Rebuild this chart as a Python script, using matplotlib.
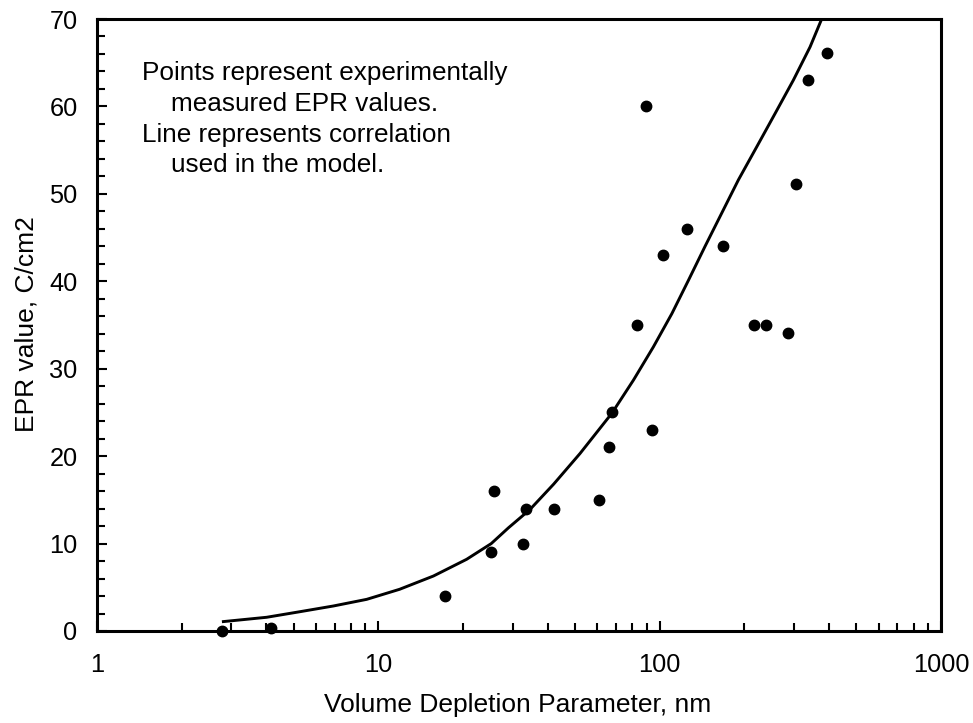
import matplotlib
matplotlib.use("Agg")
import matplotlib.pyplot as plt
from matplotlib.ticker import LogLocator, MultipleLocator, FixedLocator, FixedFormatter, NullFormatter

plt.rcParams['font.family'] = ['Liberation Sans', 'DejaVu Sans']

# measured EPR points
vdp_points = [2.78, 4.15, 17.2, 25.2, 25.8, 32.6, 33.5, 42.0, 61.0, 66.1, 67.7,
              83.3, 89.2, 93.6, 103, 125, 167.6, 215.9, 237.8, 286.1, 304.5, 335.5, 392.6]
epr_points = [0.0, 0.4, 4.0, 9.0, 16.0, 10.0, 14.0, 14.0, 15.0, 21.0, 25.0,
              35.0, 60.0, 23.0, 43.0, 46.0, 44.0, 35.0, 35.0, 34.1, 51.1, 63.0, 66.1]

# correlation line used in the model
vdp_line = [2.78, 4.01, 5.27, 6.92, 9.09, 11.9, 15.7, 20.6, 25.2, 29.0, 34.6, 42.0,
            52.1, 67.6, 80.7, 95.0, 110.5, 126.5, 145.0, 166.2, 190.5, 221.5,
            257.3, 298.6, 342.4, 380.0]
epr_line = [1.06, 1.57, 2.21, 2.86, 3.62, 4.77, 6.29, 8.2, 10.0, 11.8, 13.9, 16.8,
            20.3, 24.9, 28.7, 32.5, 36.3, 40.1, 44.0, 47.8, 51.6, 55.4,
            59.2, 63.0, 66.8, 70.3]

x_ticks = [1, 10, 100, 1000]
x_tick_labels = ["1", "10", "100", "1000"]
y_ticks = [0, 10, 20, 30, 40, 50, 60, 70]

fig = plt.figure(figsize=(9.73, 7.23), dpi=100)
ax = fig.add_axes([97/973, 1 - 631/723, (941 - 97)/973, (631 - 19)/723])

ax.plot(vdp_line, epr_line, color='black', lw=2.1, solid_capstyle='butt',
        solid_joinstyle='round')
ax.plot(vdp_points, epr_points, 'o', color='black', markersize=7.5, clip_on=False)

ax.set_xscale('log')
ax.set_xlim(1, 1000)
ax.set_ylim(0, 70)

ax.xaxis.set_major_locator(FixedLocator(x_ticks))
ax.xaxis.set_major_formatter(FixedFormatter(x_tick_labels))
ax.xaxis.set_minor_locator(LogLocator(base=10, subs=[2, 3, 4, 5, 6, 7, 8, 9]))
ax.xaxis.set_minor_formatter(NullFormatter())
ax.yaxis.set_major_locator(FixedLocator(y_ticks))
ax.yaxis.set_minor_locator(MultipleLocator(2))

for s in ax.spines.values():
    s.set_linewidth(2.2)

ax.tick_params(axis='both', which='both', direction='in', top=False, right=False,
               width=1.5, labelsize=18.3)
ax.tick_params(axis='both', which='major', length=7)
ax.tick_params(axis='both', which='minor', length=6)
ax.tick_params(axis='y', which='major', pad=14)
ax.tick_params(axis='x', which='major', pad=16)

fig.text(518/973, 1 - 705/723, "Volume Depletion Parameter, nm", fontsize=19,
         ha='center', va='center')
fig.text(27/973, 1 - 324/723, "EPR value, C/cm2", fontsize=19, rotation=90,
         ha='center', va='center')

fs_note = 18.8
fig.text(142/973, 1 - 73/723, "Points represent experimentally", fontsize=fs_note, va='center')
fig.text(171/973, 1 - 104/723, "measured EPR values.", fontsize=fs_note, va='center')
fig.text(142/973, 1 - 135/723, "Line represents correlation", fontsize=fs_note, va='center')
fig.text(171/973, 1 - 165/723, "used in the model.", fontsize=fs_note, va='center')

fig.savefig("out.png", dpi=100)
